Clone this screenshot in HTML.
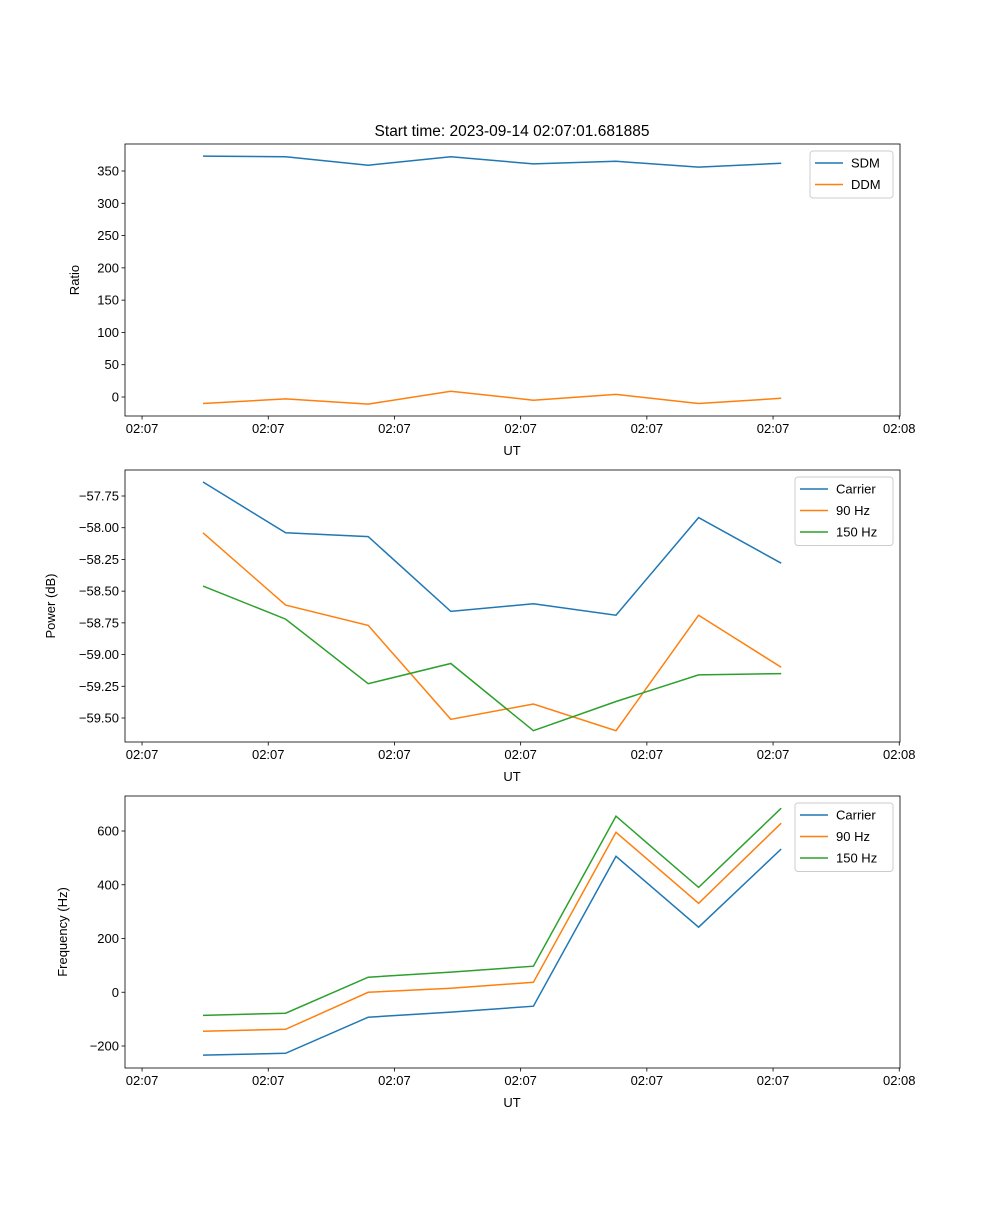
<!DOCTYPE html>
<html><head><meta charset="utf-8"><style>
body{margin:0;background:#fff}
svg text{font-family:"Liberation Sans","DejaVu Sans",sans-serif;font-size:13px;fill:#000}
</style></head><body>
<svg id="fig" width="1000" height="1200" xmlns="http://www.w3.org/2000/svg">
<text x="512" y="136" text-anchor="middle" style="font-size:15.5px">Start time: 2023-09-14 02:07:01.681885</text>
</svg>
<script>
const times = [0, 6.545, 13.09, 19.635, 26.18, 32.725, 39.27, 45.815];
const xTickVals = [-4.83, 5.17, 15.17, 25.17, 35.17, 45.17, 55.17];
const xTickLabels = ["02:07","02:07","02:07","02:07","02:07","02:07","02:08"];
const sdm = [373, 372, 359, 372, 361, 365, 356, 362];
const ddm = [-10, -3, -11, 9, -5, 4, -10, -2];
const powCarrier = [-57.64, -58.04, -58.07, -58.66, -58.60, -58.69, -57.92, -58.28];
const pow90 = [-58.04, -58.61, -58.77, -59.51, -59.39, -59.60, -58.69, -59.10];
const pow150 = [-58.46, -58.72, -59.23, -59.07, -59.60, -59.37, -59.16, -59.15];
const freqCarrier = [-234, -227, -93, -74, -52, 506, 242, 533];
const freq90 = [-145, -138, 0, 15, 37, 595, 331, 629];
const freq150 = [-86, -78, 56, 75, 97, 655, 390, 685];
const ratioTicks = [0,50,100,150,200,250,300,350];
const powTicks = [-57.75,-58.00,-58.25,-58.50,-58.75,-59.00,-59.25,-59.50];
const freqTicks = [-200,0,200,400,600];

const svg = document.getElementById('fig');
const NS = 'http://www.w3.org/2000/svg';
function mk(tag, attrs, parent){const e=document.createElementNS(NS,tag);for(const k in attrs)e.setAttribute(k,attrs[k]);(parent||svg).appendChild(e);return e;}
const L=125,R=900;
function xs(t){return 203 + t*(82.6/6.545);}
const C=['#1f77b4','#ff7f0e','#2ca02c'];

function panel(id, top, yv0, yp0, yv1, yp1, ticks, fmt, ylabel, ylabX, series, names, legX, legW){
  const bot=top+272;
  const g=mk('g',{});
  
  
  const ys=v=>yp0+(v-yv0)*(yp1-yp0)/(yv1-yv0);
  series.forEach((s,si)=>{
    const p=mk('polyline',{points:s.map((v,i)=>xs(times[i]).toFixed(1)+','+ys(v).toFixed(1)).join(' '),fill:'none',stroke:C[si],'stroke-width':1.5},g);
    
    
  });
  const fr=mk('rect',{x:L,y:top,width:R-L,height:272,fill:'none',stroke:'#000','stroke-width':0.8},g);
  
  
  xTickVals.forEach((t,i)=>{const x=xs(t);mk('line',{x1:x,x2:x,y1:bot,y2:bot+3.5,stroke:'#000','stroke-width':0.8},g);
    const tx=mk('text',{x:x,y:bot+17,'text-anchor':'middle'},g);tx.textContent=xTickLabels[i];
    
    });
  const xl=mk('text',{x:512,y:bot+39,'text-anchor':'middle'},g);xl.textContent='UT';
  
  
  ticks.forEach(v=>{const y=ys(v);mk('line',{x1:L-3.5,x2:L,y1:y,y2:y,stroke:'#000','stroke-width':0.8},g);
    const tx=mk('text',{x:L-6,y:y+4.5,'text-anchor':'end'},g);tx.textContent=fmt(v).replace('-','\u2212');
    
    });
  const yl=mk('text',{x:ylabX,y:top+136,'text-anchor':'middle',transform:`rotate(-90 ${ylabX} ${top+136})`},g);yl.textContent=ylabel;
  
  
  const lg=mk('g',{},g);
  
  
  mk('rect',{x:legX,y:top+7,width:legW,height:names.length*21.5+4,rx:3,fill:'#fff','fill-opacity':0.8,stroke:'#ccc'},lg);
  names.forEach((n,i)=>{const y=top+19+i*21.5;
    mk('line',{x1:legX+5,x2:legX+33,y1:y,y2:y,stroke:C[i],'stroke-width':1.5},lg);
    const t=mk('text',{x:legX+41,y:y+4.5},lg);t.textContent=n;
    
    });
}
panel('ratio',144,350,171,0,397,ratioTicks,v=>String(v),'Ratio',79,[sdm,ddm],['SDM','DDM'],810,83);
panel('power',470,-57.75,496,-59.5,718,powTicks,v=>v.toFixed(2),'Power (dB)',55,[powCarrier,pow90,pow150],['Carrier','90 Hz','150 Hz'],795,98);
panel('freq',796,600,831,-200,1046,freqTicks,v=>String(v),'Frequency (Hz)',67,[freqCarrier,freq90,freq150],['Carrier','90 Hz','150 Hz'],795,98);
</script>
</body></html>
